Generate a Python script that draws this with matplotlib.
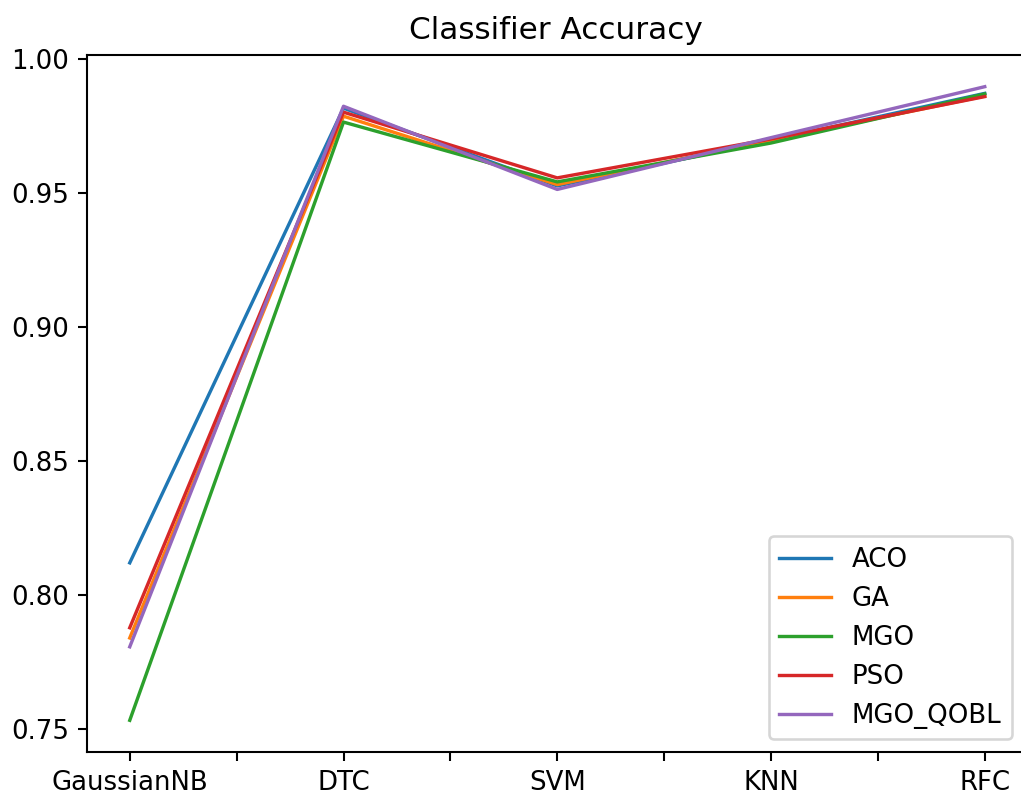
import numpy as np
import matplotlib
matplotlib.use("Agg")
import matplotlib.pyplot as plt

# Accuracy of each classifier after feature selection by each optimizer
classifiers = ["GaussianNB", "DTC", "SVM", "KNN", "RFC"]
aco = [0.812, 0.9815, 0.9525, 0.9695, 0.9870]
ga = [0.784, 0.9785, 0.9530, 0.9695, 0.9860]
mgo = [0.7533, 0.9763, 0.9540, 0.9685, 0.9868]
pso = [0.7878, 0.9800, 0.9555, 0.9700, 0.9858]
mgo_qobl = [0.7807, 0.9822, 0.9512, 0.9705, 0.9895]

series = {"ACO": aco, "GA": ga, "MGO": mgo, "PSO": pso, "MGO_QOBL": mgo_qobl}

dpi = 187
fig = plt.figure(figsize=(1021 / dpi, 796 / dpi), dpi=dpi)
# the plot area runs a little past the right edge of the canvas
ax = fig.add_axes([87 / 1021, 44 / 796, 953 / 1021, 697 / 796])

x = np.arange(len(classifiers))
for name, vals in series.items():
    ax.plot(x, vals, label=name, linewidth=1.3)

ax.set_xlim(-0.2, -0.2 + 953 / 213.75)

# ticks every half step, labels only on the classifiers
ticks = np.arange(0, len(classifiers) - 0.99, 0.5)
ax.set_xticks(ticks)
ax.set_xticklabels([classifiers[int(t)] if t == int(t) else "" for t in ticks])

ax.set_title("Classifier Accuracy", x=(1025 - 87) / 953 / 2)
ax.legend(loc="lower right", bbox_to_anchor=((1025 - 87) / 953, 0))

fig.savefig("out.png", dpi=dpi)
